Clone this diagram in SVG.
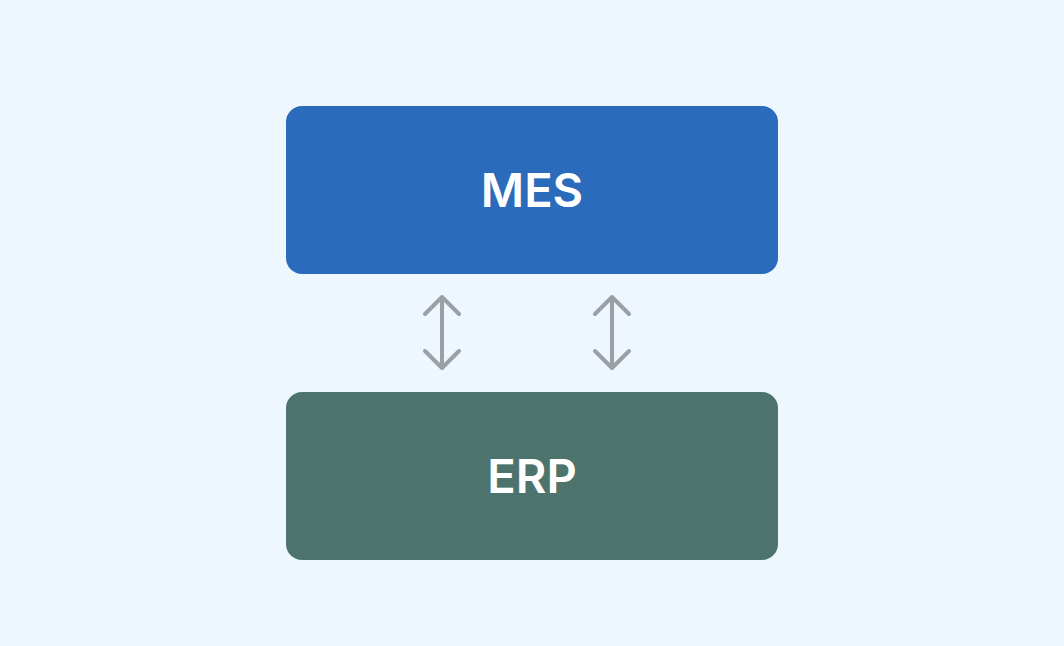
<svg xmlns="http://www.w3.org/2000/svg" width="1064" height="646" viewBox="0 0 1064 646">
<defs>
<style>
.box-label{font-family:Inter,"Liberation Sans",sans-serif;font-size:47px;font-weight:600;fill:#ffffff;text-anchor:middle}
.conn{stroke:#9aa0a6;stroke-width:4;fill:none;stroke-linecap:round;stroke-linejoin:round}
</style>
</defs>
<rect width="1064" height="646" fill="#eef6fe"/>
<g id="mes">
<rect x="286" y="106" width="492" height="168" rx="16" fill="#2a6bbb"/>
<text class="box-label" x="532" y="207">MES</text>
</g>
<g id="erp">
<rect x="286" y="392" width="492" height="168" rx="16" fill="#4d746c"/>
<text class="box-label" x="532" y="493">ERP</text>
</g>
<g id="connectors">
<path class="conn" d="M442 298 V367 M425 314 L442 297 L459 314 M425 351 L442 368 L459 351"/>
<path class="conn" d="M612 298 V367 M595 314 L612 297 L629 314 M595 351 L612 368 L629 351"/>
</g>
</svg>
